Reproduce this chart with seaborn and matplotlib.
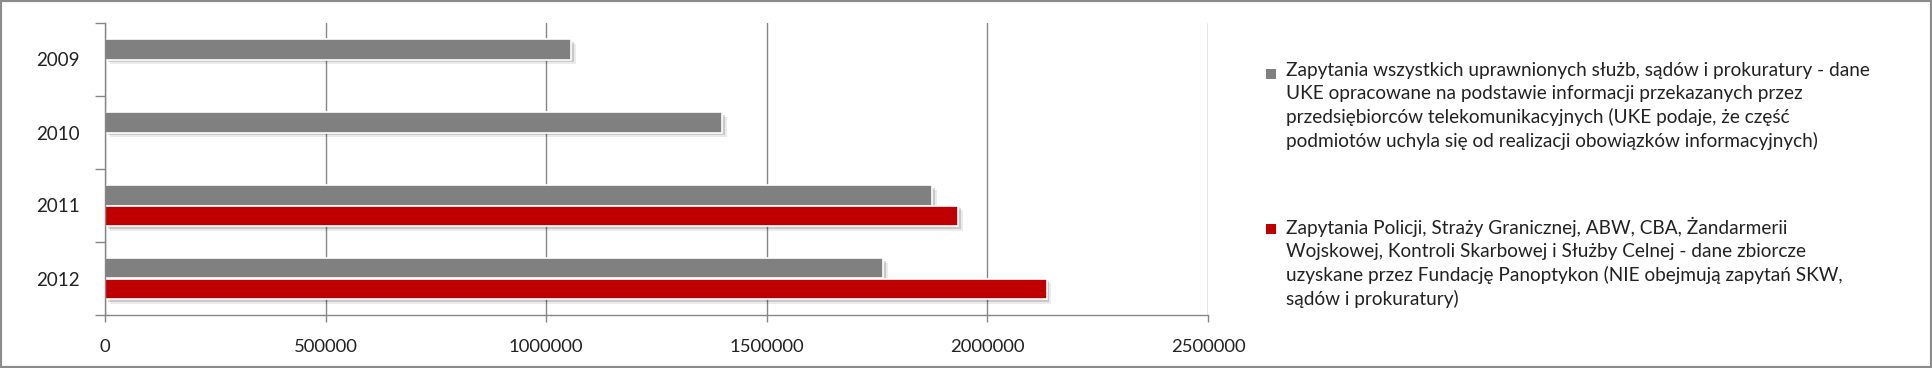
import numpy as np
import pandas as pd
import matplotlib
matplotlib.use("Agg")
import matplotlib.pyplot as plt
import matplotlib.patches as mpatches
import matplotlib.patheffects as pe
import seaborn as sns

# ---- data ----
years = ["2009", "2010", "2011", "2012"]
uke_values = [1056000, 1398000, 1874000, 1764000]
panoptykon_values = [np.nan, np.nan, 1933000, 2134000]
series_uke = ("Zapytania wszystkich uprawnionych służb, sądów i prokuratury - dane\n"
              "UKE opracowane na podstawie informacji przekazanych przez\n"
              "przedsiębiorców telekomunikacyjnych (UKE podaje, że część\n"
              "podmiotów uchyla się od realizacji obowiązków informacyjnych)")
series_pan = ("Zapytania Policji, Straży Granicznej, ABW, CBA, Żandarmerii\n"
              "Wojskowej, Kontroli Skarbowej i Służby Celnej - dane zbiorcze\n"
              "uzyskane przez Fundację Panoptykon (NIE obejmują zapytań SKW,\n"
              "sądów i prokuratury)")
x_ticks = [0, 500000, 1000000, 1500000, 2000000, 2500000]
x_tick_labels = ["0", "500000", "1000000", "1500000", "2000000", "2500000"]

GRAY = "#808080"
RED = "#C00000"

df = pd.DataFrame({
    "year": years * 2,
    "value": uke_values + panoptykon_values,
    "series": ["uke"] * 4 + ["pan"] * 4,
})

sns.set_style("white")
plt.rcParams["font.family"] = ["Lato", "DejaVu Sans"]

W, H = 1932, 368
fig = plt.figure(figsize=(W / 100, H / 100), dpi=100)
ax = fig.add_axes([105 / W, 1 - 315 / H, (1208 - 105) / W, (315 - 23) / H])

sns.barplot(data=df, y="year", x="value", hue="series", hue_order=["uke", "pan"],
            order=years, palette=[GRAY, RED], saturation=1, orient="h", errorbar=None,
            width=0.56, dodge=True, legend=False, ax=ax,
            edgecolor="white", linewidth=1.2)

for p in ax.patches:
    p.set_path_effects([pe.SimplePatchShadow(offset=(3.5, -3.5), shadow_rgbFace="#000000", alpha=0.08),
                        pe.SimplePatchShadow(offset=(2, -2), shadow_rgbFace="#000000", alpha=0.15),
                        pe.Normal()])

ax.set_xlim(0, 2500000)
ax.set_ylim(3.5, -0.5)
ax.set_xticks(x_ticks)
ax.set_xticklabels(x_tick_labels)
ax.set_yticks([-0.5, 0.5, 1.5, 2.5, 3.5])
ax.set_yticklabels([])
ax.set_yticks(range(len(years)), minor=True)
ax.set_yticklabels(years, minor=True)
ax.tick_params(axis="y", which="major", length=7, width=1, color="#868686", direction="out", left=True)
ax.tick_params(axis="y", which="minor", length=0, pad=18, labelsize=13.5, labelcolor="#222222")
ax.tick_params(axis="x", length=5, width=1, color="#868686", direction="out", bottom=True,
               pad=12, labelsize=13.3, labelcolor="#222222")
ax.set_xlabel("")
ax.set_ylabel("")
ax.xaxis.grid(True, color="#868686", linewidth=1)
ax.yaxis.grid(False)
ax.set_axisbelow(True)
for s in ["top", "right"]:
    ax.spines[s].set_visible(False)
for s in ["left", "bottom"]:
    ax.spines[s].set_color("#868686")
    ax.spines[s].set_linewidth(1)

# legend (manual)
for label, color, ytop in [(series_uke, GRAY, 74), (series_pan, RED, 229)]:
    sq = 10
    fig.patches.append(mpatches.Rectangle(((1271 - sq / 2) / W, 1 - (ytop + sq / 2) / H), sq / W, sq / H,
                                          transform=fig.transFigure, facecolor=color, edgecolor="none"))
    fig.text(1286 / W, 1 - (ytop - 12) / H, label, ha="left", va="top", fontsize=13.7,
             color="#222222", linespacing=1.4)

# outer border
fig.patches.append(mpatches.Rectangle((0, 0), 1, 1, transform=fig.transFigure, fill=False,
                                      edgecolor="#8c8c8c", linewidth=3))

fig.savefig("out.png", dpi=100)
